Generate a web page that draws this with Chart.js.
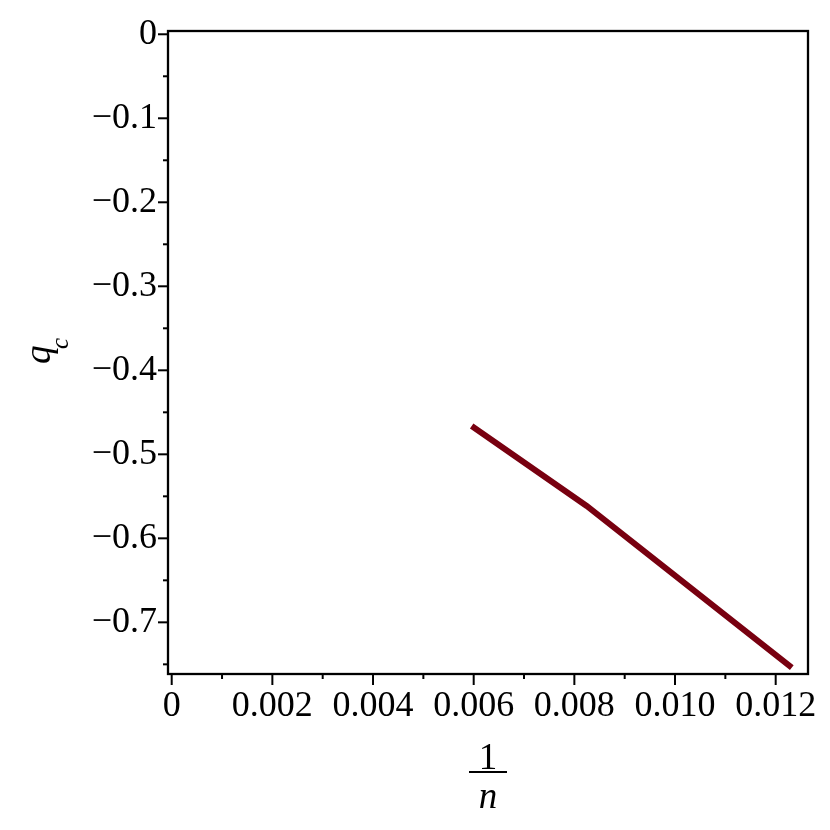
<!DOCTYPE html>
<html>
<head>
<meta charset="utf-8">
<script src="https://cdn.jsdelivr.net/npm/chart.js@4/dist/chart.umd.min.js"></script>
<style>
html, body { margin:0; padding:0; background:#fff; }
</style>
</head>
<body>
<canvas id="grafico" width="830" height="830"></canvas>
<script>
// ================================
// DATOS
// ================================

const invN = [0.00596, 0.008245, 0.01232];
const qc = [-0.4663, -0.5615, -0.7540];

const xTicks = [0, 0.001, 0.002, 0.003, 0.004, 0.005, 0.006, 0.007, 0.008, 0.009, 0.010, 0.011, 0.012];
const xLabels = ["0", "", "0.002", "", "0.004", "", "0.006", "", "0.008", "", "0.010", "", "0.012"];

const yTicks = [0, -0.05, -0.1, -0.15, -0.2, -0.25, -0.3, -0.35, -0.4, -0.45, -0.5, -0.55, -0.6, -0.65, -0.7, -0.75];
const yLabels = ["0", "", "\u22120.1", "", "\u22120.2", "", "\u22120.3", "", "\u22120.4", "", "\u22120.5", "", "\u22120.6", "", "\u22120.7", ""];

const fuente = "'Liberation Serif', 'Times New Roman', serif";

// ================================
// CAJA, MARCAS Y TITULOS
// ================================

const cajaMaple = {
    id: "cajaMaple",
    afterDraw(chart){
        const c = chart.ctx;
        const a = chart.chartArea;
        const sx = chart.scales.x;
        const sy = chart.scales.y;

        c.save();
        c.strokeStyle = "#000";
        c.lineWidth = 2.3;
        c.strokeRect(a.left, a.top, a.right - a.left, a.bottom - a.top);

        c.lineWidth = 2;

        // marcas eje y
        yTicks.forEach((v, i) => {
            const p = sy.getPixelForValue(v);
            const largo = yLabels[i] ? 10 : 5;
            c.beginPath();
            c.moveTo(a.left - largo, p);
            c.lineTo(a.left, p);
            c.stroke();
        });

        // marcas eje x
        xTicks.forEach((v, i) => {
            const p = sx.getPixelForValue(v);
            const largo = xLabels[i] ? 10 : 4;
            c.beginPath();
            c.moveTo(p, a.bottom + 1);
            c.lineTo(p, a.bottom + 1 + largo);
            c.stroke();
        });

        c.fillStyle = "#000";

        // titulo y: q_c
        c.save();
        c.translate(40, 352);
        c.rotate(-Math.PI / 2);
        c.textBaseline = "alphabetic";
        c.textAlign = "left";
        c.font = "italic 37px " + fuente;
        c.fillText("q", -12, 10);
        c.font = "italic 25px " + fuente;
        c.fillText("c", 3, 28);
        c.restore();

        // titulo x: 1/n
        const cx = 488;
        c.textAlign = "center";
        c.textBaseline = "alphabetic";
        c.font = "37px " + fuente;
        c.fillText("1", cx, 769);
        c.fillRect(cx - 19, 771, 38, 2);
        c.font = "italic 37px " + fuente;
        c.fillText("n", cx, 808);

        c.restore();
    }
};

// ================================
// GRAFICO
// ================================

const ctx = document.getElementById("grafico");

const grafico = new Chart(ctx, {

    type: "scatter",

    data: {
        datasets: [{
            data: invN.map((x, i) => ({ x: x, y: qc[i] })),
            showLine: true,
            borderColor: "#780010",
            borderWidth: 6,
            borderCapStyle: "butt",
            pointRadius: 0,
            tension: 0
        }]
    },

    options: {
        responsive: false,
        animation: false,
        layout: {
            padding: { top: 31, right: 22, left: 0, bottom: 0 }
        },
        plugins: {
            legend: { display: false },
            tooltip: { enabled: false }
        },
        scales: {
            x: {
                type: "linear",
                min: -0.0000735,
                max: 0.012642,
                grid: { display: false },
                border: { display: false },
                afterBuildTicks: s => { s.ticks = xTicks.map(v => ({ value: v })); },
                afterFit: s => { s.height = 156; },
                ticks: {
                    autoSkip: false,
                    maxRotation: 0,
                    padding: 3,
                    color: "#000",
                    font: { family: fuente, size: 36 },
                    callback: (v, i) => xLabels[i]
                }
            },
            y: {
                type: "linear",
                min: -0.7615,
                max: 0.0039,
                grid: { display: false },
                border: { display: false },
                afterBuildTicks: s => { s.ticks = yTicks.map(v => ({ value: v })); },
                afterFit: s => { s.width = 168; },
                ticks: {
                    autoSkip: false,
                    padding: 3,
                    color: "#000",
                    font: { family: fuente, size: 36 },
                    callback: (v, i) => yLabels[i]
                }
            }
        }
    },

    plugins: [cajaMaple]
});
</script>
</body>
</html>
